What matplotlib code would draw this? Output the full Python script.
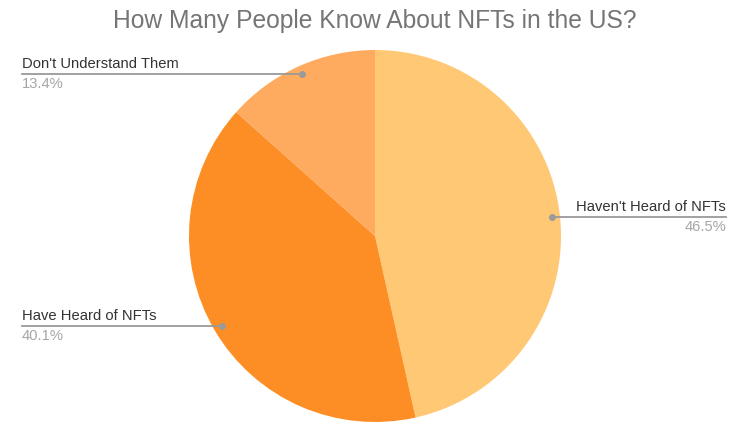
import matplotlib
matplotlib.use("Agg")
import matplotlib.pyplot as plt
import numpy as np

title = "How Many People Know About NFTs in the US?"
categories = ["Haven't Heard of NFTs", "Have Heard of NFTs", "Don't Understand Them"]
values = [46.5, 40.1, 13.4]
colors = ["#FFC875", "#FD8E25", "#FFAB5F"]

plt.rcParams['font.family'] = ['Liberation Sans', 'DejaVu Sans']

W, H = 750, 430
fig = plt.figure(figsize=(7.5, 4.3), dpi=100)
ax = fig.add_axes([0, 0, 1, 1])

cx, cy, R = 375, H - 236, 186
wedges, _ = ax.pie(values, colors=colors, startangle=90, counterclock=False,
                   center=(cx, cy), radius=R, frame=True,
                   wedgeprops=dict(linewidth=0))
ax.set_xlim(0, W)
ax.set_ylim(0, H)
ax.set_aspect('equal')
ax.axis('off')

line_c = "#9a9a9a"
fs = 10.6
for w, cat, v in zip(wedges, categories, values):
    mid = np.deg2rad((w.theta1 + w.theta2) / 2)
    px = cx + 0.955 * R * np.cos(mid)
    py = cy + 0.955 * R * np.sin(mid)
    if np.cos(mid) > 0:
        x_end = 726
        ax.plot([px, x_end], [py, py], color=line_c, lw=1.3, zorder=3)
        ax.text(x_end, py + 3, cat, ha='right', va='bottom', fontsize=fs, color='#333333')
        ax.text(x_end, py - 3, f"{v:.1f}%", ha='right', va='top', fontsize=fs, color='#a6a6a6')
    else:
        x_end = 22
        ax.plot([x_end, px], [py, py], color=line_c, lw=1.3, zorder=3)
        ax.text(x_end, py + 3, cat, ha='left', va='bottom', fontsize=fs, color='#333333')
        ax.text(x_end, py - 3, f"{v:.1f}%", ha='left', va='top', fontsize=fs, color='#a6a6a6')
    ax.plot([px], [py], 'o', color=line_c, ms=4, zorder=4)

ax.text(W / 2, H - 21, title, ha='center', va='center', fontsize=17.7, color='#757575')

fig.savefig("out.png", dpi=100)
